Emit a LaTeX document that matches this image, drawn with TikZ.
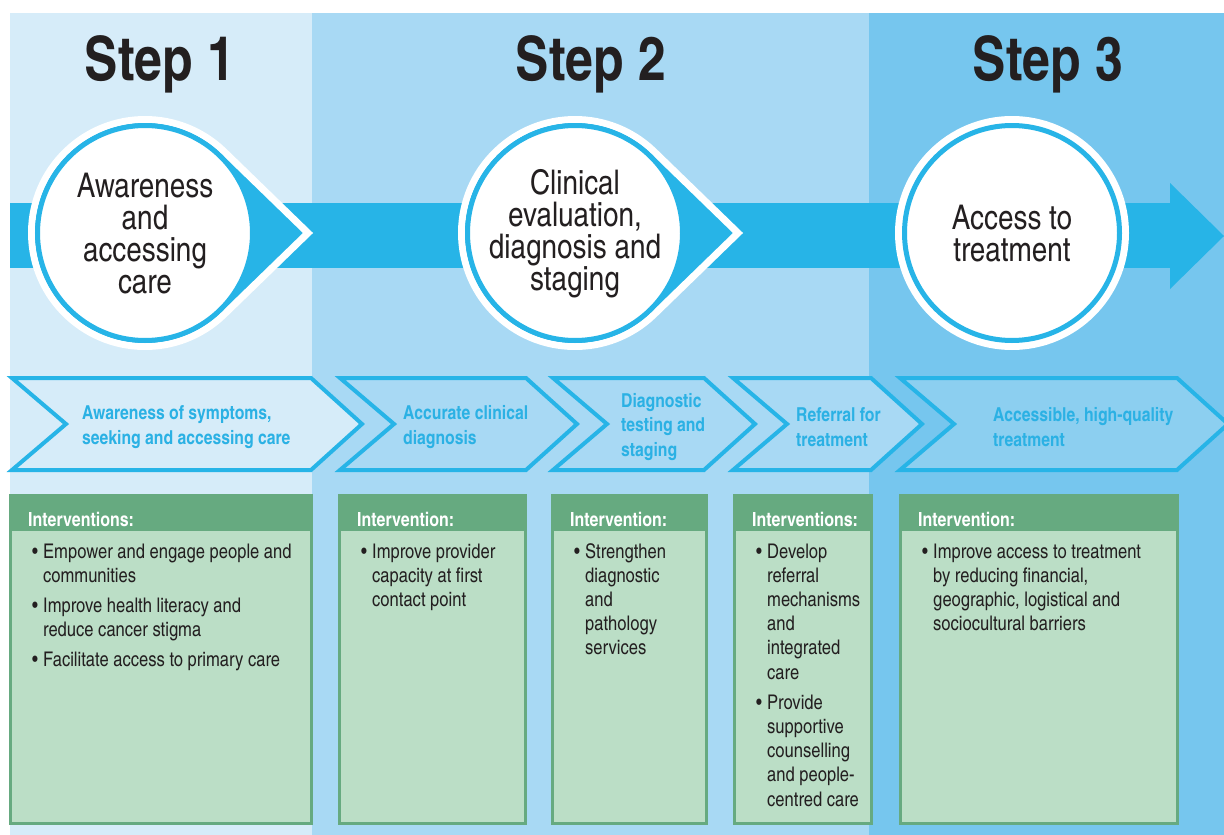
\documentclass[tikz,border=0pt]{standalone}
\usepackage{fontspec}
\setmainfont{texgyreheroscn}[Extension=.otf, UprightFont=*-regular, BoldFont=*-bold]
\usetikzlibrary{calc}

\definecolor{ink}{HTML}{231F20}
\definecolor{panelA}{HTML}{D6ECF9}
\definecolor{panelB}{HTML}{A8D9F4}
\definecolor{panelC}{HTML}{76C6EE}
\definecolor{panelD}{HTML}{8CCFF0}
\definecolor{flow}{HTML}{27B4E7}
\definecolor{goalblue}{HTML}{2BB1E4}
\definecolor{greenA}{HTML}{66AA80}
\definecolor{greenB}{HTML}{BBDEC6}

\def\unit{1pt}
\newcommand{\bitem}[1]{\par\hangindent=11pt\hangafter=1\noindent\makebox[11pt][l]{\textbullet}#1\par}

\begin{document}
\begin{tikzpicture}[x=\unit, y=-\unit,
    stepname/.style={font=\bfseries\fontsize{61}{64}\selectfont, text=ink, anchor=base},
    stagetext/.style={font=\fontsize{34}{32}\selectfont, text=ink, align=center},
    ring/.style={fill=white, draw=flow, line width=5pt},
    halo/.style={fill=flow, draw=white, line width=7pt, line join=miter},
    chevbox/.style={draw=flow, line width=4pt, line join=miter},
    goaltext/.style={font=\bfseries\fontsize{19.2}{24.5}\selectfont, text=goalblue, align=left, anchor=west, inner sep=0pt},
    boxbody/.style={fill=greenB, draw=greenA, line width=3pt},
    headtext/.style={font=\bfseries\fontsize{19.5}{22}\selectfont, text=white, anchor=west, inner sep=0pt},
    listtext/.style={font=\fontsize{20.2}{24.2}\selectfont, text=ink, anchor=base west, inner sep=0pt}]
      \useasboundingbox (0,0) rectangle (1224,835);
      \fill[white] (0,0) rectangle (1224,835);
      \fill[panelA] (10,13) rectangle (312,835);
      \fill[panelB] (312,13) rectangle (869,835);
      \fill[panelC] (869,13) rectangle (1224,835);

      \node[stepname] (step1) at (160,80) {Step 1};
      \node[stepname] (step2) at (591,80) {Step 2};
      \node[stepname] (step3) at (1048,80) {Step 3};

      \fill[flow] (10,203) rectangle (1172,268);
      \fill[flow] (1170,183) -- (1224,236) -- (1170,289) -- cycle;

      \filldraw[halo] (308,233) -- ($(145,233)+(46:113.5)$) arc[start angle=46, end angle=314, radius=113.5] -- cycle;
      \draw[ring] (145,233) circle[radius=107.5];
      \filldraw[halo] (738,233) -- ($(575,233)+(46:113.5)$) arc[start angle=46, end angle=314, radius=113.5] -- cycle;
      \draw[ring] (575,233) circle[radius=107.5];
      \filldraw[fill=white, draw=white, line width=7pt] (1012,233) circle[radius=113.5];
      \draw[ring] (1012,233) circle[radius=107.5];

      \node[stagetext] (stage1) at (145,234) {Awareness\\and\\accessing\\care};
      \node[stagetext] (stage2) at (575,234) {Clinical\\evaluation,\\diagnosis and\\staging};
      \node[stagetext] (stage3) at (1012,234) {Access to\\treatment};

      \draw[chevbox, fill=panelA] (12,378) -- (311,378) -- (362,424) -- (311,470) -- (12,470) -- (66,424) -- cycle;
      \draw[chevbox, fill=panelB] (340,378) -- (526,378) -- (577,424) -- (526,470) -- (340,470) -- (394,424) -- cycle;
      \draw[chevbox, fill=panelB] (553,378) -- (704,378) -- (755,424) -- (704,470) -- (553,470) -- (607,424) -- cycle;
      \draw[chevbox, fill=panelB] (733,378) -- (871,378) -- (922,424) -- (871,470) -- (733,470) -- (787,424) -- cycle;
      \draw[chevbox, fill=panelD] (900,378) -- (1177,378) -- (1228,424) -- (1177,470) -- (900,470) -- (954,424) -- cycle;

      \node[goaltext] (goal1) at (82,427) {Awareness of symptoms,\\seeking and accessing care};
      \node[goaltext] (goal2) at (403,427) {Accurate clinical\\diagnosis};
      \node[goaltext] (goal3) at (621,427) {Diagnostic\\testing and\\staging};
      \node[goaltext] (goal4) at (796,427) {Referral for\\treatment};
      \node[goaltext] (goal5) at (993,427) {Accessible, high-quality\\treatment};

      \draw[boxbody] (10,495) rectangle (311,823);
      \draw[boxbody] (339,495) rectangle (525,823);
      \draw[boxbody] (552,495) rectangle (706,823);
      \draw[boxbody] (734,495) rectangle (871,823);
      \draw[boxbody] (900,495) rectangle (1177,823);
      \fill[greenA] (10,495) rectangle (311,531);
      \fill[greenA] (339,495) rectangle (525,531);
      \fill[greenA] (552,495) rectangle (706,531);
      \fill[greenA] (734,495) rectangle (871,531);
      \fill[greenA] (900,495) rectangle (1177,531);

      \node[headtext] (head1) at (28,519) {Interventions:};
      \node[headtext] (head2) at (357,519) {Intervention:};
      \node[headtext] (head3) at (570,519) {Intervention:};
      \node[headtext] (head4) at (752,519) {Interventions:};
      \node[headtext] (head5) at (918,519) {Intervention:};

      \node[listtext] (list1) at (32,558) {\begin{minipage}[t]{275pt}
        \bitem{Empower and engage people and\\communities}\vspace{6pt}
        \bitem{Improve health literacy and\\reduce cancer stigma}\vspace{6pt}
        \bitem{Facilitate access to primary care}\end{minipage}};
      \node[listtext] (list2) at (361,558) {\begin{minipage}[t]{160pt}
        \bitem{Improve provider\\capacity at first\\contact point}\end{minipage}};
      \node[listtext] (list3) at (574,558) {\begin{minipage}[t]{130pt}
        \bitem{Strengthen\\diagnostic\\and\\pathology\\services}\end{minipage}};
      \node[listtext] (list4) at (756,558) {\begin{minipage}[t]{130pt}
        \bitem{Develop\\referral\\mechanisms\\and\\integrated\\care}\vspace{6pt}
        \bitem{Provide\\supportive\\counselling\\and people-\\centred care}\end{minipage}};
      \node[listtext] (list5) at (922,558) {\begin{minipage}[t]{250pt}
        \bitem{Improve access to treatment\\by reducing financial,\\geographic, logistical and\\sociocultural barriers}\end{minipage}};
    \end{tikzpicture}
\end{document}
